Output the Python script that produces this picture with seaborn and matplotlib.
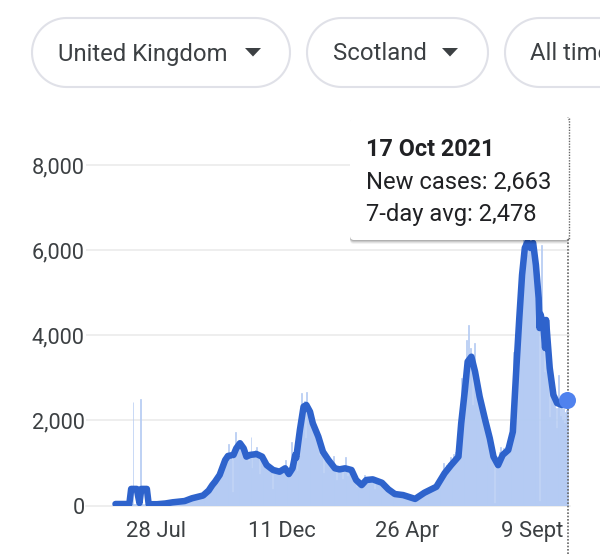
#!/usr/bin/env python3
# Scotland new cases chart with the dropdowns and hover tooltip

import numpy as np
import pandas as pd
import matplotlib
matplotlib.use("Agg")
import matplotlib.pyplot as plt
from matplotlib.patches import FancyBboxPatch, Polygon
import seaborn as sns

# Daily new cases, 10 values per row, starting 14 Jun 2020
new_cases = [
    30, 25, 40, 30, 35, 28, 32, 35, 30, 25,
    30, 35, 28, 32, 30, 35, 30, 40, 35, 2440,
    30, 28, 35, 30, 32, 25, 30, 2500, 30, 28,
    20, 25, 22, 30, 25, 18, 20, 22, 25, 20,
    22, 25, 30, 28, 20, 25, 30, 26, 28, 32,
    30, 35, 38, 42, 45, 40, 38, 50, 46, 52,
    50, 62, 68, 70, 60, 58, 75, 72, 78, 80,
    82, 90, 85, 95, 100, 108, 115, 110, 118, 125,
    130, 150, 165, 170, 160, 175, 190, 185, 200, 210,
    220, 210, 235, 245, 230, 260, 270, 255, 290, 310,
    330, 360, 345, 420, 400, 470, 540, 480, 600, 520,
    640, 600, 720, 820, 700, 860, 900, 980, 1040, 1090,
    1120, 1180, 1050, 1450, 1180, 1210, 1100, 325, 1240, 1280,
    1735, 1350, 1400, 1450, 1520, 1480, 1400, 1380, 1300, 1280,
    1200, 1180, 1100, 1150, 1050, 1160, 1250, 1620, 880, 1200,
    1180, 1250, 1300, 1385, 1150, 1250, 750, 1180, 1200, 1120,
    1150, 1000, 980, 1050, 920, 980, 900, 870, 820, 850,
    385, 860, 800, 780, 830, 750, 800, 780, 820, 760,
    830, 900, 850, 920, 1070, 900, 860, 700, 760, 720,
    880, 1500, 900, 1000, 1250, 1200, 1150, 800, 1500, 1700,
    1850, 2100, 2640, 2400, 2300, 2450, 1590, 2680, 2400, 2300,
    2250, 2150, 2200, 1950, 2050, 1900, 1950, 1700, 1800, 1650,
    1600, 1190, 1500, 1350, 1400, 1280, 765, 1200, 1150, 1100,
    1100, 1000, 980, 950, 900, 880, 1170, 850, 800, 820,
    600, 850, 820, 880, 830, 850, 620, 870, 900, 1150,
    880, 850, 700, 850, 820, 780, 750, 700, 650, 600,
    560, 440, 540, 500, 480, 520, 470, 500, 520, 560,
    720, 580, 620, 600, 620, 640, 600, 640, 610, 630,
    600, 385, 590, 580, 560, 550, 570, 520, 530, 520,
    480, 460, 450, 420, 400, 360, 350, 340, 330, 310,
    300, 280, 290, 270, 260, 270, 250, 260, 250, 240,
    250, 230, 240, 220, 210, 210, 190, 190, 180, 170,
    170, 160, 150, 160, 150, 140, 160, 170, 190, 180,
    210, 230, 260, 280, 290, 300, 310, 320, 350, 330,
    360, 380, 370, 400, 420, 440, 430, 470, 460, 500,
    560, 620, 600, 680, 760, 820, 1000, 880, 830, 950,
    900, 1000, 980, 1150, 950, 1050, 1100, 1200, 1150, 1250,
    1305, 1100, 1200, 1500, 1800, 3000, 2300, 2500, 2800, 3000,
    3200, 3895, 3500, 4250, 3500, 3700, 3400, 2365, 3300, 3815,
    3100, 3000, 2900, 2800, 2600, 2500, 2400, 2300, 2150, 2100,
    2000, 1950, 1850, 1900, 1750, 1700, 1500, 1550, 1400, 1350,
    1200, 50, 1100, 1050, 1000, 950, 1150, 1250, 1385, 1200,
    1250, 1350, 1200, 1380, 1300, 1350, 1400, 1300, 1450, 1500,
    1700, 2000, 3620, 3200, 3500, 3900, 4300, 4700, 5100, 5000,
    5600, 5800, 6300, 6400, 6100, 6500, 6300, 5900, 6200, 6300,
    6000, 6200, 6400, 6100, 5800, 6000, 5500, 5200, 4600, 4400,
    100, 4800, 6130, 4000, 3800, 3140, 3700, 3500, 3400, 3300,
    3000, 2090, 2800, 2900, 2500, 2600, 2400, 2300, 1825, 2300,
    2200, 3070, 2300, 2100, 2400, 2000, 2300, 1950, 2200, 2250,
    2663,
]

# 7-day average, read at the days where the curve bends
avg_days = [0, 15, 17, 23, 26, 28, 34, 36, 45, 54, 62, 75, 83, 95, 101, 105,
            108, 113, 119, 122, 128, 131, 135, 139, 142, 146, 153, 159, 164,
            171, 178, 184, 188, 192, 195, 196, 200, 204, 207, 211, 214, 220,
            225, 231, 238, 243, 249, 256, 261, 267, 272, 279, 289, 296, 303,
            312, 325, 335, 348, 357, 364, 372, 375, 379, 382, 386, 390, 395,
            401, 406, 410, 415, 420, 426, 431, 435, 438, 441, 444, 447, 450,
            453, 456, 459, 460, 461, 464, 466, 467, 471, 475, 479, 484, 490]
avg_values = [35, 35, 390, 390, 60, 390, 390, 30, 30, 47, 75, 105, 170, 235,
              350, 480, 560, 720, 1070, 1165, 1190, 1345, 1465, 1345, 1150,
              1190, 1210, 1150, 950, 835, 795, 875, 740, 875, 1190, 1120, 1775,
              2325, 2365, 2205, 1935, 1620, 1265, 1070, 875, 850, 875, 835, 600,
              480, 600, 615, 535, 380, 270, 245, 155, 300, 440, 760, 950, 1150,
              1935, 2720, 3385, 3500, 3150, 2560, 2010, 1580, 1150, 950, 1190,
              1305, 1735, 3305, 4410, 5425, 6060, 6200, 6060, 6175, 5660, 4880,
              4175, 4500, 4250, 3705, 4365, 3235, 2600, 2410, 2365, 2478]

y_ticks = [0, 2000, 4000, 6000, 8000]
y_tick_labels = ["0", "2,000", "4,000", "6,000", "8,000"]
x_ticks = ["2020-07-28", "2020-12-11", "2021-04-26", "2021-09-09"]
x_tick_labels = ["28 Jul", "11 Dec", "26 Apr", "9 Sept"]

tooltip_title = "17 Oct 2021"
tooltip_lines = ["New cases: 2,663", "7-day avg: 2,478"]

start = pd.Timestamp("2020-06-14")
case_dates = pd.date_range(start, periods=len(new_cases), freq="D")
avg_dates = [start + pd.Timedelta(days=d) for d in avg_days]

sns.set_style("white")
plt.rcParams["font.family"] = ["Roboto", "DejaVu Sans"]

TEXT = "#3c4043"
GRID = "#eeeeee"

fig = plt.figure(figsize=(6, 5.54), dpi=100)
# plot area in pixels: x 86-570, y 117-505.5
ax = fig.add_axes([86 / 600, (554 - 505.5) / 554, 484 / 600, 388.5 / 554])

ax.bar(case_dates, new_cases, width=1.0, color="#b4cbf3", edgecolor="#b4cbf3",
       linewidth=0.5, zorder=2)
sns.lineplot(x=avg_dates, y=avg_values, ax=ax, color="#2e63cc", linewidth=4.7,
             estimator=None, errorbar=None, zorder=3)
sns.scatterplot(x=[avg_dates[-1]], y=[avg_values[-1]], ax=ax, color="#5082ee",
                s=150, linewidth=0, zorder=5, clip_on=False, legend=False)

ax.set_xlim(pd.Timestamp("2020-05-13"), pd.Timestamp("2021-10-20"))
ax.set_ylim(0, 9140)
ax.set_xticks(pd.to_datetime(x_ticks))
ax.set_xticklabels(x_tick_labels)
ax.set_yticks(y_ticks)
ax.set_yticklabels(y_tick_labels)
ax.set_xlabel("")
ax.set_ylabel("")
ax.tick_params(axis="x", length=7, width=1.4, color=GRID, labelsize=15.8,
               labelcolor=TEXT, pad=4)
ax.tick_params(axis="y", length=0, labelsize=15.6, labelcolor=TEXT, pad=1)
ax.grid(axis="y", color=GRID, linewidth=1.4)
ax.set_axisbelow(True)
ax.axhline(0, color=GRID, linewidth=1.4, clip_on=False, zorder=1)
sns.despine(ax=ax, left=True, bottom=True)

# hover marker runs down past the axis to the bottom of the image
ax.axvline(avg_dates[-1] + pd.Timedelta(days=1), ymin=-0.125, ymax=1, color="#666666",
           linewidth=1.2, linestyle=(0, (1, 1)), clip_on=False, zorder=4)

# dropdowns and tooltip go on an overlay in pixel coordinates
ui = fig.add_axes([0, 0, 1, 1], zorder=5)
ui.set_xlim(0, 600)
ui.set_ylim(554, 0)
ui.axis("off")
ui.patch.set_alpha(0)


def pill(x0, x1, label, text_x, arrow_x=None):
    # fully round ends, the bbox patch corners come out too square
    r = 34.5
    t = np.linspace(-np.pi / 2, np.pi / 2, 40)
    right = np.column_stack([x1 - r + r * np.cos(t), 52.5 + r * np.sin(t)])
    left = np.column_stack([x0 + r - r * np.cos(t), 52.5 - r * np.sin(t)])
    ui.add_patch(Polygon(np.vstack([right, left]), closed=True, linewidth=1.5,
                         edgecolor="#e0e1e8", facecolor="white"))
    ui.text(text_x, 54, label, fontsize=17.2, color=TEXT, va="center", ha="left",
            clip_on=True)
    if arrow_x is not None:
        ui.add_patch(Polygon([(arrow_x, 48), (arrow_x + 16, 48), (arrow_x + 8, 56.5)],
                             closed=True, color="#3c4043", linewidth=0))


pill(32, 290, "United Kingdom", 58, 245)
pill(307, 488, "Scotland", 333, 442)
pill(505, 760, "All time", 530)

# tooltip with a soft shadow
for off, alpha in [(4, 0.05), (3, 0.07), (2, 0.1), (1, 0.12)]:
    ui.add_patch(FancyBboxPatch((350, 118 + off), 219, 122,
                                boxstyle="round,pad=0,rounding_size=4",
                                linewidth=0, facecolor="black", alpha=alpha))
ui.add_patch(FancyBboxPatch((350, 118), 219, 122, boxstyle="round,pad=0,rounding_size=4",
                            linewidth=0, facecolor="white"))
ui.text(366, 149, tooltip_title, fontsize=16.8, fontweight="bold", color="#202124",
        va="center", ha="left")
ui.text(366, 182, tooltip_lines[0], fontsize=17.1, color="#202124", va="center", ha="left")
ui.text(366, 214, tooltip_lines[1], fontsize=17.1, color="#202124", va="center", ha="left")
ui.plot([569, 569], [118, 240], color="#666666", linewidth=1.0, linestyle=(0, (1, 1)))

fig.savefig("out.png", dpi=100)
